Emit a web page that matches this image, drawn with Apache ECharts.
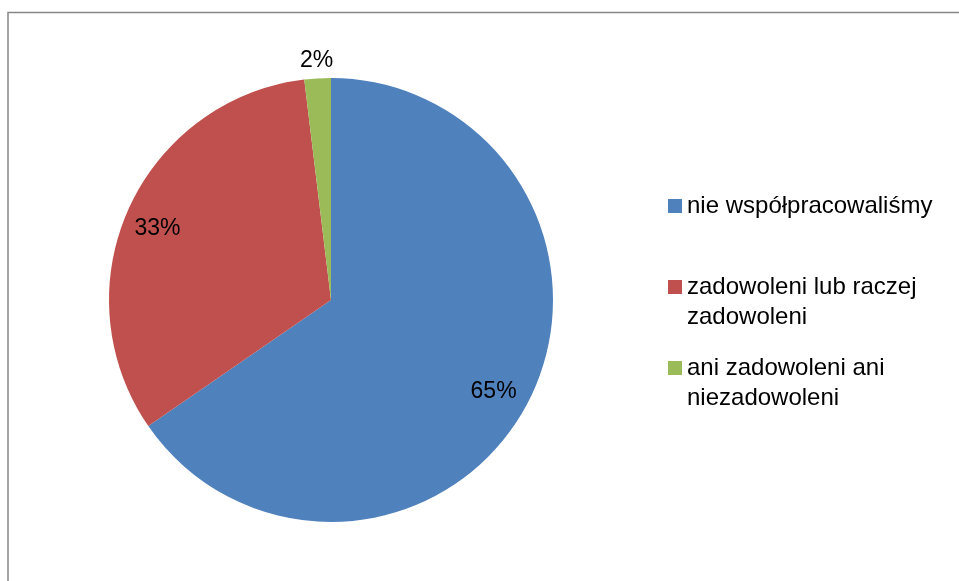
<!DOCTYPE html>
<html>
<head>
<meta charset="utf-8">
<script src="https://cdn.jsdelivr.net/npm/echarts@6/dist/echarts.min.js"></script>
<style>
html,body{margin:0;padding:0;background:#fff;}
#chart{width:959px;height:581px;}
</style>
</head>
<body>
<div id="chart"></div>
<script>
// dane
var categories = ['nie współpracowaliśmy', 'zadowoleni lub raczej zadowoleni', 'ani zadowoleni ani niezadowoleni'];
var counts = [34, 17, 1];
var colors = ['#4F81BD', '#C0504D', '#9BBB59'];
// legend text broken into lines (first line empty so the icon sits on line 1)
var legendText = ['nie współpracowaliśmy', '\nzadowoleni lub raczej\nzadowoleni', '\nani zadowoleni ani\nniezadowoleni'];
var legendTops = [189, 240, 321];

var FONT = 'Liberation Sans';

function loadChart(){
	var myChart = echarts.init(document.getElementById('chart'));
	var pieData = categories.map(function(name, i){
		return {name: name, value: counts[i], itemStyle: {color: colors[i]}};
	});
	var total = counts.reduce(function(a, b){ return a + b; }, 0);
	// transparent ring used only to hold the percentage labels
	var labelData = categories.map(function(name, i){
		var item = {name: name, value: counts[i]};
		if (counts[i] / total < 0.05) {
			item.label = {position: 'outside', distanceToLabelLine: 0};
			item.labelLine = {show: false, length: 18, length2: 0};
		}
		return item;
	});
	var legends = categories.map(function(name, i){
		return {
			show: true,
			data: [name],
			orient: 'vertical',
			left: 668,
			top: legendTops[i],
			padding: 0,
			itemWidth: 14,
			itemHeight: 14,
			icon: 'rect',
			selectedMode: false,
			formatter: function(){ return legendText[i]; },
			textStyle: {fontFamily: FONT, fontSize: 24, color: '#000', lineHeight: 30, padding: [4, 0, 0, 0]}
		};
	});
	var option = {
		animation: false,
		backgroundColor: '#fff',
		legend: legends,
		graphic: [{
			type: 'rect',
			silent: true,
			shape: {x: 8, y: 12.5, width: 970, height: 600},
			style: {fill: 'none', stroke: '#878787', lineWidth: 1.5}
		}],
		series: [
			{
				name: 'main',
				type: 'pie',
				center: [331, 300],
				radius: [0, 222],
				startAngle: 90,
				clockwise: true,
				avoidLabelOverlap: false,
				silent: true,
				label: {show: false},
				labelLine: {show: false},
				itemStyle: {borderWidth: 0},
				data: pieData
			},
			{
				name: 'labels',
				type: 'pie',
				center: [331, 300],
				radius: [146, 222],
				startAngle: 90,
				clockwise: true,
				avoidLabelOverlap: false,
				silent: true,
				itemStyle: {color: 'rgba(0,0,0,0)', borderWidth: 0},
				label: {
					show: true,
					position: 'inside',
					formatter: function(p){ return Math.round(p.percent) + '%'; },
					fontFamily: FONT,
					fontSize: 23,
					color: '#000'
				},
				labelLine: {show: false},
				labelLayout: function(params){
					if (counts[params.dataIndex] / total < 0.05) {
						return {align: 'center'};
					}
					return {dx: -3, dy: 5};
				},
				data: labelData
			}
		]
	};
	myChart.setOption(option);
}
loadChart();
</script>
</body>
</html>
